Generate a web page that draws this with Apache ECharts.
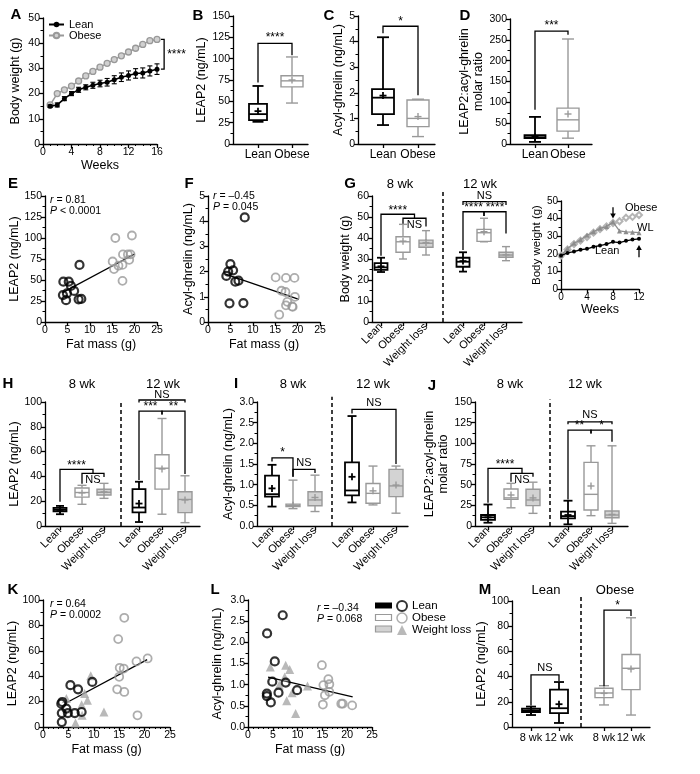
<!DOCTYPE html>
<html><head><meta charset="utf-8">
<script src="https://cdn.jsdelivr.net/npm/echarts@6/dist/echarts.min.js"></script>
<style>html,body{margin:0;padding:0;background:#fff}#c{width:700px;height:774px}</style>
</head><body><div id="c"></div>
<script>
// ---------------- DATA ----------------
// Panel A
const weeksA = [1,2,3,4,5,6,7,8,9,10,11,12,13,14,15,16];
const leanA = [15,15.5,18,20,21.5,22.5,23.3,24,24.5,25.5,26.5,27.2,28,28.2,29,29.7];
const leanAErr = [0.5,0.8,0.8,0.8,1,1,1.2,1.3,1.5,1.6,1.7,1.8,1.9,2.0,2.0,2.1];
const obeseA = [15.5,20,21.5,23,25,27,28.8,30.5,32,33.5,35,36.5,38,39.5,41,41.5];
// Box stats: [min, Q1, median, Q3, max, mean]
const catsLO = ['Lean','Obese'];
const boxB_lean = [26,28,35,47,68,38.5];
const boxB_obese = [48,67,74,80,102,75];
const boxC_lean = [0.74,1.17,1.81,2.14,4.17,1.89];
const boxC_obese = [0.29,0.68,1.0,1.72,1.75,1.07];
const boxD_lean = [5,14,16,21,65,17];
const boxD_obese = [14,31,58,86,252,72];
// Panel E / F scatter [fat mass, value]
const leanE = [[4.1,48],[5.3,48],[4.0,32],[4.9,34],[4.7,26],[5.8,43],[6.5,37],[7.7,68],[7.5,27],[8.1,27.5]];
const obeseE = [[15.7,100],[15.1,72],[15.4,63],[16.4,67],[17.3,68],[17.3,49],[17.4,80.5],[18.5,80.5],[18.8,74],[19.1,80.5],[19.4,103]];
const fitE = [[3.9,35],[20,81]];
const leanF = [[8.2,4.15],[5.0,2.3],[4.5,2.0],[5.6,2.05],[4.1,1.83],[6.1,1.6],[6.8,1.64],[4.8,0.74],[7.9,0.75]];
const obeseF = [[15.1,1.77],[17.4,1.75],[19.3,1.75],[16.4,1.24],[17.3,1.19],[17.7,0.8],[17.4,0.66],[18.8,0.62],[19.4,1.0],[15.9,0.29],[18.9,0.6]];
const fitF = [[3.9,1.9],[20.3,0.9]];
// Panel G
const cats3 = ['Lean','Obese','Weight loss'];
const g8Lean = [23.8,24.8,26,28,30.6,26.5];
const g8Obese = [30,33.2,38.2,40.6,46.5,38.5];
const g8WL = [31.9,35.6,37.5,39,43.5,37.8];
const g12Lean = [24,26.3,28.7,30.6,33.2,29];
const g12Obese = [38.2,38.4,42.5,44.1,49.4,43];
const g12WL = [29.2,30.8,31.9,33.2,35.9,32];
// G inset
const weeksG = [0,1,2,3,4,5,6,7,8,9,10,11,12];
const leanG = [19,20.5,21.3,22.3,22.8,24,24.7,25.5,26.8,26.4,27.4,28.1,28.5];
const obeseG = [19,22.5,25.5,27.5,29.5,32,34,35.5,37.5,38.5,40.5,41,42];
const wlG = [19,23,26,28,30.5,32.5,34.5,35.5,38,33,32.5,32.3,32];
// Panel H (LEAP2)
const h8Lean = [9.5,11.9,13.2,14.6,16.2,13];
const h8Obese = [17.5,23.3,27,30.7,32.8,26.7];
const h8WL = [22.3,25,27.2,29.6,34.4,27.5];
const h12Lean = [3.2,11,14.9,29.7,35.7,18.1];
const h12Obese = [9.5,29.7,46.6,57.5,86.7,46];
const h12WL = [2.7,10.8,21.4,27.6,40.5,21];
// Panel I (acyl-ghrelin)
const i8Lean = [0.47,0.71,0.77,1.22,1.48,0.91];
const i8Obese = [0.42,0.47,0.5,0.53,1.11,0.5];
const i8WL = [0.35,0.49,0.63,0.83,1.23,0.69];
const i12Lean = [0.57,0.74,0.86,1.54,2.66,1.19];
const i12Obese = [0.51,0.55,0.79,1.03,1.45,0.85];
const i12WL = [0.31,0.71,0.97,1.37,1.45,0.99];
// Panel J (ratio)
const j8Lean = [4,7.3,10.5,13.3,26,10.5];
const j8Obese = [22,32.2,34,44.7,51.6,37.5];
const j8WL = [15.3,24.6,31.5,44.4,53,34];
const j12Lean = [2,9.3,12,17.3,30.6,13.3];
const j12Obese = [12.5,19.4,38.3,77,97,48.4];
const j12WL = [3.2,10,13.3,18.1,97,14];
// Panel K / L scatter
const leanK = [[3.6,18.4],[3.8,19.7],[3.7,11],[3.7,3.9],[4.6,14.5],[4.9,11],[5.4,32.9],[6.25,11],[6.9,29.7],[7.6,11.8],[9.7,35.5]];
const obeseK = [[16,86],[14.8,69.2],[15.1,46.6],[15.9,46],[15,39.5],[14.6,29.7],[16,27.6],[18.4,51.6],[20.6,54],[18.6,9.2]];
const wlK = [[4.6,22.4],[9.4,40.3],[8.2,26.3],[8.75,21],[7.6,17.6],[7.7,9.2],[6.4,3.2],[12,11.8]];
const fitK = [[4.8,19.5],[20.5,53]];
const leanL = [[3.85,2.21],[7.0,2.64],[5.4,1.55],[4.9,1.07],[7.6,1.05],[3.8,0.79],[3.8,0.73],[4.6,0.58],[6.15,0.81],[9.9,0.87]];
const obeseL = [[14.9,1.46],[15.2,0.99],[16.2,1.13],[16.4,1.01],[15.5,0.75],[16.4,0.83],[15.1,0.53],[18.8,0.55],[19.1,0.55],[21,0.51]];
const wlL = [[4.5,1.42],[7.6,1.46],[8.4,1.36],[7.4,1.18],[6.3,0.99],[8.9,0.81],[7.8,0.62],[12,0.97],[9.6,0.32]];
const fitL = [[4.05,1.18],[21.1,0.71]];
// Panel M (same LEAP2 groups by time)
const catsM = ['8 wk','12 wk','8 wk','12 wk'];
const mLean8 = h8Lean, mLean12 = h12Lean, mObese8 = h8Obese, mObese12 = h12Obese;
// significance brackets: a/b = category index (x.5 = midpoint), ya/yb = leg ends, top = bar level
const brB = [{a:0,ya:72,b:1,yb:104,top:118,text:'****',dy:-6}];
const brC = [{a:0,ya:4.33,b:1,yb:1.9,top:4.6,text:'*',dy:-5}];
const brD = [{a:0,ya:82,b:1,yb:262,top:271,text:'***',dy:-5}];
const brG = [{a:1,ya:46.8,b:2,yb:45.5,top:49.4,text:'NS',dy:7},{a:0,ya:31.5,b:1.5,yb:49.4,top:51.3,text:'****',dy:-4},
  {a:3,ya:34.3,b:4,yb:50.5,top:52.5,text:'****',dy:-4},{a:4,ya:50.5,b:5,yb:42.2,top:52.5,text:'****',dy:-4},
  {a:3,ya:55.7,b:5,yb:55.7,top:57.3,text:'NS',dy:-6}];
const brH = [{a:1,ya:34,b:2,yb:39.5,top:42.5,text:'NS',dy:7},{a:0,ya:19.6,b:1.5,yb:42.5,top:45.7,text:'****',dy:-4},
  {a:3,ya:37,b:4,yb:90,top:92.7,text:'***',dy:-4},{a:4,ya:90,b:5,yb:42,top:92.7,text:'**',dy:-4},
  {a:3,ya:99.5,b:5,yb:99.5,top:101.6,text:'NS',dy:-5.5}];
const brI = [{a:0,ya:1.56,b:1,yb:1.19,top:1.65,text:'*',dy:-5},{a:1,ya:1.19,b:2,yb:1.28,top:1.37,text:'NS',dy:-6.5},
  {a:3,ya:2.72,b:5,yb:1.5,top:2.82,text:'NS',dy:-6.5}];
const brJ = [{a:1,ya:53.6,b:2,yb:59.7,top:63.7,text:'NS',dy:7},{a:0,ya:28,b:1.5,yb:63.7,top:69.8,text:'****',dy:-4},
  {a:3,ya:32,b:4,yb:112,top:116,text:'**',dy:-4},{a:4,ya:112,b:5,yb:102,top:116,text:'*',dy:-4},
  {a:3,ya:123,b:5,yb:123,top:126,text:'NS',dy:-7}];
const brM = [{a:0,ya:17,b:1,yb:36.5,top:41.3,text:'NS',dy:-7},{a:2,ya:32.5,b:3,yb:88,top:92.8,text:'*',dy:-4}];

// ---------------- LAYOUT / STYLE ----------------
const FONT = '"Liberation Sans", Arial, Helvetica, sans-serif';
const TICK_FS = 10.5, NAME_FS = 12.5, CAT_FS = 12, ROT_FS = 11;
const GRAY = '#999999', WLFILL = '#d3d3d3';
const LAY = {
  A:{left:43,top:18,width:114,height:126}, B:{left:233,top:16,width:75,height:128},
  C:{left:358,top:16,width:77,height:128}, D:{left:510,top:19,width:82,height:125},
  E:{left:45,top:196,width:112,height:126}, F:{left:208,top:196,width:112,height:126},
  G:{left:372,top:196,width:150,height:126}, Gi:{left:561,top:201,width:78,height:88},
  H:{left:45,top:402,width:155,height:124}, I:{left:257,top:402,width:151,height:124},
  J:{left:475,top:402,width:153,height:124}, K:{left:43,top:600,width:127,height:127},
  L:{left:248,top:600,width:124,height:127}, M:{left:512,top:601,width:138,height:126}
};
const posB=[25,59], posC=[25,60], posD=[25,58];
const posG=[9,31,54,91,112,134], sepG=71;
const posH=[15,37,59,94,117,140], sepH=76;
const posI=[15,36,58,95,116,139], sepI=75;
const posJ=[13,36,58,93,116,137], sepJ=75;
const posM=[19,47,92,119], sepM=69;

function merge(a,b){const r=Array.isArray(a)?a.slice():Object.assign({},a);for(const k in b){const v=b[k];if(v&&typeof v==='object'&&!Array.isArray(v)&&typeof v!=='function'&&r[k]&&typeof r[k]==='object'&&!Array.isArray(r[k]))r[k]=merge(r[k],v);else r[k]=v;}return r;}
const gridOf=g=>({left:g.left,top:g.top,width:g.width,height:g.height,containLabel:false,outerBoundsMode:'none'});
function AX(){return {axisLine:{show:true,onZero:false,lineStyle:{color:'#000',width:1.3}},
  axisTick:{show:true,length:4,lineStyle:{color:'#000',width:1.3}},
  axisLabel:{color:'#000',fontSize:TICK_FS,fontFamily:FONT,margin:3},
  splitLine:{show:false},nameLocation:'middle',
  nameTextStyle:{color:'#000',fontSize:NAME_FS,fontFamily:FONT}};}
function yv(gi,min,max,interval,name,gap,extra){return merge(merge(AX(),{gridIndex:gi,type:'value',min,max,interval,name,nameGap:gap,
  minorTick:{show:true,splitNumber:2,length:2.5,lineStyle:{color:'#000',width:1}}}),extra||{});}
function xv(gi,min,max,interval,name,gap,extra){return merge(merge(AX(),{gridIndex:gi,type:'value',min,max,interval,name,nameGap:gap}),extra||{});}
function xc(gi,W,pos,labels,rot,fs,margin){return merge(AX(),{gridIndex:gi,type:'value',min:0,max:W,
  axisTick:{customValues:pos},
  axisLabel:{customValues:pos,rotate:rot,fontSize:fs,margin:margin,hideOverlap:false,
    formatter:v=>{const i=pos.findIndex(p=>Math.abs(p-v)<1e-6);return i<0?'':labels[i];}}});}

function drawBox(api,st){
  const x=api.value(0),mn=api.value(1),q1=api.value(2),md=api.value(3),q3=api.value(4),mx=api.value(5),mean=api.value(6);
  const P=v=>api.coord([x,v]);const cx=P(md)[0];
  const yMn=P(mn)[1],yQ1=P(q1)[1],yMd=P(md)[1],yQ3=P(q3)[1],yMx=P(mx)[1],yMe=P(mean)[1];
  const w=st.w,c=st.cap,pl=st.plus;const ls={stroke:st.color,lineWidth:st.lw,fill:null};
  return {type:'group',children:[
    {type:'line',shape:{x1:cx,y1:yQ3,x2:cx,y2:yMx},style:ls},
    {type:'line',shape:{x1:cx,y1:yQ1,x2:cx,y2:yMn},style:ls},
    {type:'line',shape:{x1:cx-c/2,y1:yMx,x2:cx+c/2,y2:yMx},style:ls},
    {type:'line',shape:{x1:cx-c/2,y1:yMn,x2:cx+c/2,y2:yMn},style:ls},
    {type:'rect',shape:{x:cx-w/2,y:yQ3,width:w,height:Math.max(0.5,yQ1-yQ3)},style:{stroke:st.color,lineWidth:st.lw,fill:st.fill}},
    {type:'line',shape:{x1:cx-w/2,y1:yMd,x2:cx+w/2,y2:yMd},style:ls},
    {type:'line',shape:{x1:cx-pl,y1:yMe,x2:cx+pl,y2:yMe},style:ls},
    {type:'line',shape:{x1:cx,y1:yMe-pl,x2:cx,y2:yMe+pl},style:ls}]};
}
function boxes(gi,items,st){return {type:'custom',xAxisIndex:gi,yAxisIndex:gi,clip:false,silent:true,z:3,
  data:items.map(([p,b])=>[p].concat(b)),encode:{x:0,y:[1,2,3,4,5]},renderItem:(params,api)=>drawBox(api,st)};}
const stLean=(w,cap)=>({color:'#000',fill:'#fff',lw:1.8,w,cap,plus:3.5});
const stObese=(w,cap)=>({color:GRAY,fill:'#fff',lw:1.4,w,cap,plus:3.5});
const stWL=(w,cap)=>({color:GRAY,fill:WLFILL,lw:1.4,w,cap,plus:3.5});

function brackets(gi,pos,rows){
  const X=i=>{const f=Math.floor(i);return i===f?pos[i]:(pos[f]+pos[f+1])/2;};
  return {type:'custom',xAxisIndex:gi,yAxisIndex:gi,clip:false,silent:true,z:4,
    data:rows.map(r=>[X(r.a),r.ya,X(r.b),r.yb,r.top]),
    renderItem:(params,api)=>{const r=rows[params.dataIndex];
      const a=api.coord([api.value(0),api.value(1)]),at=api.coord([api.value(0),api.value(4)]);
      const b=api.coord([api.value(2),api.value(3)]),bt=api.coord([api.value(2),api.value(4)]);
      const fs=r.text==='NS'?11:12;
      return {type:'group',children:[
        {type:'polyline',shape:{points:[a,at,bt,b]},style:{stroke:'#000',lineWidth:1.3,fill:null}},
        {type:'text',x:(a[0]+b[0])/2,y:at[1]+r.dy,style:{text:r.text,fill:'#000',font:fs+'px '+FONT,
          align:'center',verticalAlign:'middle',textAlign:'center',textVerticalAlign:'middle'}}]};}};
}
function sep(gi,x,top){return {type:'custom',xAxisIndex:gi,yAxisIndex:gi,clip:false,silent:true,z:2,data:[[x,0,top]],
  renderItem:(p,api)=>{const a=api.coord([api.value(0),api.value(1)]),b=api.coord([api.value(0),api.value(2)]);
    return {type:'line',shape:{x1:a[0],y1:a[1],x2:b[0],y2:b[1]},style:{stroke:'#000',lineWidth:1.5,lineDash:[4,3]}};}};}
function scat(gi,name,data,sym,size,style,z){return {type:'scatter',name,xAxisIndex:gi,yAxisIndex:gi,data,symbol:sym,symbolSize:size,itemStyle:style,z:z||3,silent:true};}
function fit(gi,data){return {type:'line',xAxisIndex:gi,yAxisIndex:gi,data,symbol:'none',lineStyle:{color:'#000',width:1.3},z:2,silent:true};}
const openBlack={color:'rgba(255,255,255,0)',borderColor:'#000',borderWidth:2.2};
const openGray={color:'rgba(255,255,255,0)',borderColor:GRAY,borderWidth:1.8};
const triGray={color:'#a8a8a8',borderWidth:0};
const f1=v=>v.toFixed(1);

const order=['A','B','C','D','E','F','G','Gi','H','I','J','K','L','M'];
const grid=order.map(k=>gridOf(LAY[k]));

const xAxis=[
  xv(0,0,16,4,'Weeks',14,{minorTick:{show:true,splitNumber:4,length:2,lineStyle:{color:'#000'}}}),
  xc(1,LAY.B.width,posB,catsLO,0,CAT_FS,5),
  xc(2,LAY.C.width,posC,catsLO,0,CAT_FS,5),
  xc(3,LAY.D.width,posD,catsLO,0,CAT_FS,5),
  xv(4,0,25,5,'Fat mass (g)',16),
  xv(5,0,25,5,'Fat mass (g)',16),
  xc(6,LAY.G.width,posG,cats3.concat(cats3),45,ROT_FS,3),
  xv(7,0,12,4,'Weeks',12,{axisLabel:{fontSize:10}}),
  xc(8,LAY.H.width,posH,cats3.concat(cats3),45,ROT_FS,3),
  xc(9,LAY.I.width,posI,cats3.concat(cats3),45,ROT_FS,3),
  xc(10,LAY.J.width,posJ,cats3.concat(cats3),45,ROT_FS,3),
  xv(11,0,25,5,'Fat mass (g)',16,{minorTick:{show:true,splitNumber:5,length:2,lineStyle:{color:'#000'}}}),
  xv(12,0,25,5,'Fat mass (g)',16,{minorTick:{show:true,splitNumber:5,length:2,lineStyle:{color:'#000'}}}),
  xc(13,LAY.M.width,posM,catsM,0,11,5)
];
const yAxis=[
  yv(0,0,50,10,'Body weight (g)',21),
  yv(1,0,150,25,'LEAP2 (ng/mL)',25),
  yv(2,0,5,1,'Acyl-ghrelin (ng/mL)',6),
  yv(3,0,300,50,'LEAP2:acyl-ghrelin\nmolar ratio',17,{nameTextStyle:{lineHeight:14}}),
  yv(4,0,150,25,'LEAP2 (ng/mL)',23),
  yv(5,0,5,1,'Acyl-ghrelin (ng/mL)',11),
  yv(6,0,60,10,'Body weight (g)',20),
  yv(7,0,50,10,'Body weight (g)',17,{axisLabel:{fontSize:10},nameTextStyle:{fontSize:11.5}}),
  yv(8,0,100,20,'LEAP2 (ng/mL)',24),
  yv(9,0,3,0.5,'Acyl-ghrelin (ng/mL)',22,{axisLabel:{formatter:f1}}),
  yv(10,0,150,25,'LEAP2:acyl-ghrelin\nmolar ratio',19,{nameTextStyle:{lineHeight:14}}),
  yv(11,0,100,20,'LEAP2 (ng/mL)',21),
  yv(12,0,3,0.5,'Acyl-ghrelin (ng/mL)',24,{axisLabel:{formatter:f1}}),
  yv(13,0,100,20,'LEAP2 (ng/mL)',17)
];

const series=[
  // A
  {type:'line',name:'Obese',xAxisIndex:0,yAxisIndex:0,data:weeksA.map((w,i)=>[w,obeseA[i]]),symbol:'circle',symbolSize:6,
   lineStyle:{color:GRAY,width:1.5},itemStyle:{color:'#d0d0d0',borderColor:GRAY,borderWidth:1.3},z:3,silent:true},
  {type:'custom',xAxisIndex:0,yAxisIndex:0,silent:true,z:4,data:weeksA.map((w,i)=>[w,leanA[i],leanAErr[i]]),
   renderItem:(p,api)=>{const x=api.value(0),m=api.value(1),e=api.value(2);const t=api.coord([x,m+e]),b=api.coord([x,m-e]);
     const s={stroke:'#000',lineWidth:1.1};return {type:'group',children:[
       {type:'line',shape:{x1:t[0],y1:t[1],x2:b[0],y2:b[1]},style:s},
       {type:'line',shape:{x1:t[0]-2.5,y1:t[1],x2:t[0]+2.5,y2:t[1]},style:s},
       {type:'line',shape:{x1:b[0]-2.5,y1:b[1],x2:b[0]+2.5,y2:b[1]},style:s}]};}},
  {type:'line',name:'Lean',xAxisIndex:0,yAxisIndex:0,data:weeksA.map((w,i)=>[w,leanA[i]]),symbol:'circle',symbolSize:5,
   lineStyle:{color:'#000',width:1.6},itemStyle:{color:'#000'},z:5,silent:true},
  {type:'custom',xAxisIndex:0,yAxisIndex:0,clip:false,silent:true,z:4,data:[[16.55,17.0,obeseA[15],leanA[15]]],
   renderItem:(p,api)=>{const x0=api.value(0),x1=api.value(1),y0=api.value(2),y1=api.value(3);
     const a=api.coord([x0,y0]),b=api.coord([x1,y0]),c=api.coord([x1,y1]),d=api.coord([x0,y1]);
     return {type:'group',children:[{type:'polyline',shape:{points:[a,b,c,d]},style:{stroke:'#000',lineWidth:1.3,fill:null}},
       {type:'text',x:b[0]+3,y:(b[1]+c[1])/2,style:{text:'****',fill:'#000',font:'12px '+FONT,align:'left',verticalAlign:'middle',textAlign:'left',textVerticalAlign:'middle'}}]};}},
  // B C D
  boxes(1,[[posB[0],boxB_lean]],stLean(18,11)), boxes(1,[[posB[1],boxB_obese]],stObese(22,12)), brackets(1,posB,brB),
  boxes(2,[[posC[0],boxC_lean]],stLean(22,12)), boxes(2,[[posC[1],boxC_obese]],stObese(22,12)), brackets(2,posC,brC),
  boxes(3,[[posD[0],boxD_lean]],stLean(21,12)), boxes(3,[[posD[1],boxD_obese]],stObese(22,12)), brackets(3,posD,brD),
  // E F
  fit(4,fitE), scat(4,'eLean',leanE,'circle',8,openBlack,4), scat(4,'eObese',obeseE,'circle',8,openGray,3),
  fit(5,fitF), scat(5,'fLean',leanF,'circle',8,openBlack,4), scat(5,'fObese',obeseF,'circle',8,openGray,3),
  // G
  boxes(6,[[posG[0],g8Lean],[posG[3],g12Lean]],stLean(13,8)),
  boxes(6,[[posG[1],g8Obese],[posG[4],g12Obese]],stObese(14,8)),
  boxes(6,[[posG[2],g8WL],[posG[5],g12WL]],stWL(14,8)),
  sep(6,sepG,62.9), brackets(6,posG,brG),
  // G inset
  {type:'line',name:'gObese',xAxisIndex:7,yAxisIndex:7,data:weeksG.map((w,i)=>[w,obeseG[i]]),symbol:'emptyDiamond',symbolSize:6,
   lineStyle:{color:'#b5b5b5',width:1.3},itemStyle:{color:'#b5b5b5',borderColor:'#b5b5b5'},z:3,silent:true},
  {type:'line',name:'gWL',xAxisIndex:7,yAxisIndex:7,data:weeksG.map((w,i)=>[w,wlG[i]]),symbol:'triangle',symbolSize:5,
   lineStyle:{color:'#8c8c8c',width:1.3},itemStyle:{color:'#8c8c8c'},z:4,silent:true},
  {type:'line',name:'gLean',xAxisIndex:7,yAxisIndex:7,data:weeksG.map((w,i)=>[w,leanG[i]]),symbol:'circle',symbolSize:4,
   lineStyle:{color:'#000',width:1.3},itemStyle:{color:'#000'},z:5,silent:true},
  {type:'custom',xAxisIndex:7,yAxisIndex:7,clip:false,silent:true,z:6,data:[[8,46.5,40],[12,18,25]],
   renderItem:(p,api)=>{const a=api.coord([api.value(0),api.value(1)]),b=api.coord([api.value(0),api.value(2)]);const dir=b[1]>a[1]?1:-1;
     return {type:'group',children:[{type:'line',shape:{x1:a[0],y1:a[1],x2:b[0],y2:b[1]-dir*3},style:{stroke:'#000',lineWidth:1.3}},
       {type:'polygon',shape:{points:[[b[0]-2.8,b[1]-dir*5],[b[0]+2.8,b[1]-dir*5],[b[0],b[1]]]},style:{fill:'#000'}}]};}},
  // H
  boxes(8,[[posH[0],h8Lean],[posH[3],h12Lean]],stLean(13,8)),
  boxes(8,[[posH[1],h8Obese],[posH[4],h12Obese]],stObese(14,9)),
  boxes(8,[[posH[2],h8WL],[posH[5],h12WL]],stWL(14,9)),
  sep(8,sepH,101.6), brackets(8,posH,brH),
  // I
  boxes(9,[[posI[0],i8Lean],[posI[3],i12Lean]],stLean(14,9)),
  boxes(9,[[posI[1],i8Obese],[posI[4],i12Obese]],stObese(14,9)),
  boxes(9,[[posI[2],i8WL],[posI[5],i12WL]],stWL(14,9)),
  sep(9,sepI,3.13), brackets(9,posI,brI),
  // J
  boxes(10,[[posJ[0],j8Lean],[posJ[3],j12Lean]],stLean(14,9)),
  boxes(10,[[posJ[1],j8Obese],[posJ[4],j12Obese]],stObese(14,9)),
  boxes(10,[[posJ[2],j8WL],[posJ[5],j12WL]],stWL(14,9)),
  sep(10,sepJ,153), brackets(10,posJ,brJ),
  // K
  fit(11,fitK), scat(11,'Weight loss',wlK,'triangle',9,triGray,3), scat(11,'Obese ',obeseK,'circle',8,openGray,3), scat(11,'Lean ',leanK,'circle',8,openBlack,4),
  // L
  fit(12,fitL), scat(12,'Weight loss',wlL,'triangle',9,triGray,3), scat(12,'Obese ',obeseL,'circle',8,openGray,3), scat(12,'Lean ',leanL,'circle',8,openBlack,4),
  // M
  boxes(13,[[posM[0],mLean8],[posM[1],mLean12]],stLean(18,10)),
  boxes(13,[[posM[2],mObese8],[posM[3],mObese12]],stObese(18,10)),
  sep(13,sepM,104.8), brackets(13,posM,brM)
];

const T=(x,y,text,fs,opt)=>Object.assign({type:'text',x,y,silent:true,style:Object.assign({text,fill:'#000',font:fs+'px '+FONT,
  align:'center',verticalAlign:'middle',textAlign:'center',textVerticalAlign:'middle'},opt||{})});
const letter=(x,y,t)=>T(x,y,t,0,{font:'bold 15px '+FONT});
const stat=(x,y,r,p)=>({type:'text',x,y,silent:true,style:{text:'{i|r} = '+r+'\n{i|P} '+p,fill:'#000',font:'10.5px '+FONT,lineHeight:11,
  rich:{i:{fontStyle:'italic',fontSize:10.5,fontFamily:FONT}},align:'left',verticalAlign:'top',textAlign:'left',textVerticalAlign:'top'}});
const graphic=[
  letter(16,15,'A'),letter(198,16,'B'),letter(329,16,'C'),letter(465,16,'D'),
  letter(13,184,'E'),letter(189,184,'F'),letter(350,184,'G'),
  letter(8,384,'H'),letter(236,384,'I'),letter(432,386,'J'),
  letter(13,590,'K'),letter(215,590,'L'),letter(485,590,'M'),
  T(400,184,'8 wk',13),T(480,184,'12 wk',13),
  T(82,384,'8 wk',13),T(163,384,'12 wk',13),
  T(293,384,'8 wk',13),T(373,384,'12 wk',13),
  T(510,384,'8 wk',13),T(585,384,'12 wk',13),
  T(546,590,'Lean',13),T(615,590,'Obese',13),
  stat(50,195,'0.81','< 0.0001'),stat(213,191,'\u20130.45','= 0.045'),
  stat(50,599,'0.64','= 0.0002'),stat(317,603,'\u20130.34','= 0.068'),
  T(625,208,'Obese',11,{align:'left',textAlign:'left'}),T(637,228,'WL',11,{align:'left',textAlign:'left'}),T(595,251,'Lean',11,{align:'left',textAlign:'left'}),
  {type:'rect',shape:{x:375,y:602.5,width:17,height:6},style:{fill:'#000'},silent:true},
  {type:'rect',shape:{x:375.5,y:614.5,width:16,height:6},style:{fill:'#fff',stroke:GRAY,lineWidth:1.2},silent:true},
  {type:'rect',shape:{x:375.5,y:626,width:16,height:6},style:{fill:WLFILL,stroke:GRAY,lineWidth:1.2},silent:true}
];

const legend=[
  {left:48,top:19,orient:'vertical',padding:0,itemWidth:15,itemHeight:7,itemGap:0,selectedMode:false,
   data:['Lean','Obese'],textStyle:{fontSize:11,fontFamily:FONT,color:'#000',lineHeight:10}},
  {left:396,top:600,orient:'vertical',padding:0,itemWidth:10,itemHeight:10,itemGap:0,selectedMode:false,
   data:[{name:'Lean ',icon:'circle',itemStyle:{color:'#fff',borderColor:'#000',borderWidth:2}},
         {name:'Obese ',icon:'circle',itemStyle:{color:'#fff',borderColor:GRAY,borderWidth:1.5}},
         {name:'Weight loss',icon:'triangle',itemStyle:{color:'#a8a8a8',borderWidth:0}}],
   formatter:n=>n.trim(),textStyle:{fontSize:11.5,fontFamily:FONT,color:'#000',lineHeight:11.7}}
];

const chart=echarts.init(document.getElementById('c'),null,{renderer:'canvas'});
chart.setOption({animation:false,backgroundColor:'#fff',textStyle:{fontFamily:FONT},grid,xAxis,yAxis,series,legend,graphic});
</script></body></html>
